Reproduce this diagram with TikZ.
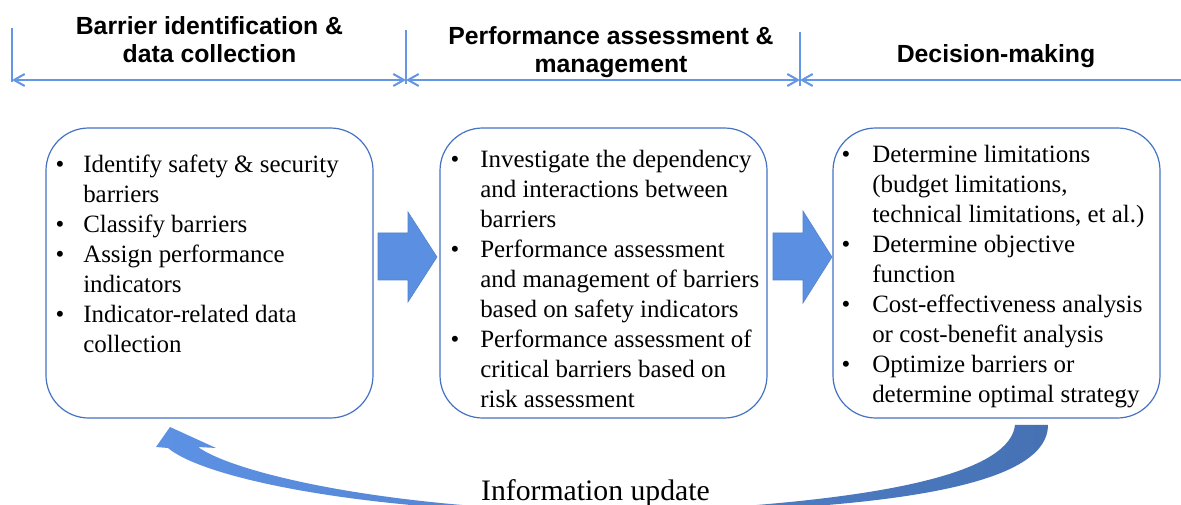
\documentclass[tikz,border=0pt]{standalone}
\usepackage{fontspec}
\setmainfont{Liberation Serif}
\newfontfamily\hdrfont{Liberation Sans}
\usetikzlibrary{arrows.meta}
\definecolor{hdrblue}{RGB}{99,150,229}
\definecolor{boxblue}{RGB}{68,114,196}
\definecolor{arrowblue}{RGB}{91,143,226}
\definecolor{curveL}{RGB}{93,145,228}
\definecolor{curveR}{RGB}{70,114,180}
\tikzset{
  hdrline/.style={draw=hdrblue, line width=1.5pt},
  hdrtip/.style={{Straight Barb[length=8pt,width=9pt]}-{Straight Barb[length=8pt,width=9pt]}},
  hdrtext/.style={font=\hdrfont\bfseries\fontsize{18.6}{21}\selectfont, anchor=base, inner sep=0pt},
  stagebox/.style={draw=boxblue, line width=0.9pt, rounded corners=32pt, minimum width=245.25pt, minimum height=217.5pt, inner sep=0pt},
  itemtext/.style={font=\fontsize{18.7}{22.4}\selectfont, anchor=base west, inner sep=0pt},
  bullet/.style={font=\fontsize{18.7}{22.4}\selectfont, anchor=base, inner sep=0pt},
  blockarrow/.style={fill=arrowblue, draw=arrowblue!90!black, line width=0.4pt},
  infotext/.style={font=\fontsize{22.3}{26}\selectfont, anchor=base, inner sep=0pt}
}
\begin{document}
\begin{tikzpicture}[x=0.75pt,y=-0.75pt]
\useasboundingbox (0,0) rectangle (1181,505);
\fill[white] (0,0) rectangle (1181,505);

% header dimension lines
\coordinate (v1t) at (12,28);  \coordinate (v1b) at (12,82);
\coordinate (v2t) at (406,30); \coordinate (v2b) at (406,84);
\coordinate (v3t) at (800,32); \coordinate (v3b) at (800,86);
\coordinate (h1) at (12,80); \coordinate (h2) at (406,80); \coordinate (h3) at (800,80); \coordinate (h4) at (1181,80);
\draw[hdrline] (v1t) -- (v1b);
\draw[hdrline] (v2t) -- (v2b);
\draw[hdrline] (v3t) -- (v3b);
\draw[hdrline, hdrtip] (h1) -- (h2);
\draw[hdrline, hdrtip] (h2) -- (h3);
\draw[hdrline, {Straight Barb[length=8pt,width=9pt]}-] (h3) -- (h4);

\node[hdrtext] (hA1) at (209.5,35) {Barrier identification \&};
\node[hdrtext] (hA2) at (209.5,63) {data collection};
\node[hdrtext] (hB1) at (611,45) {Performance assessment \&};
\node[hdrtext] (hB2) at (611,73) {management};
\node[hdrtext] (hC1) at (996,63) {Decision-making};

% boxes
\node[stagebox] (box1) at (209.5,273) {};
\node[stagebox] (box2) at (603.5,273) {};
\node[stagebox] (box3) at (996.5,273) {};

% box 1 text
\foreach \t [count=\i] in {{Identify safety \& security},{barriers},{Classify barriers},{Assign performance},{indicators},{Indicator-related data},{collection}}
  \node[itemtext] (ta\i) at (83,{173+(\i-1)*29.9}) {\t};
\foreach \i in {1,3,4,6}
  \node[bullet] (ba\i) at (60,{173+(\i-1)*29.9}) {•};

% box 2 text
\foreach \t [count=\i] in {{Investigate the dependency},{and interactions between},{barriers},{Performance assessment},{and management of barriers},{based on safety indicators},{Performance assessment of},{critical barriers based on},{risk assessment}}
  \node[itemtext] (tb\i) at (480,{168+(\i-1)*29.9}) {\t};
\foreach \i in {1,4,7}
  \node[bullet] (bb\i) at (455,{168+(\i-1)*29.9}) {•};

% box 3 text
\foreach \t [count=\i] in {{Determine limitations},{(budget limitations,},{technical limitations, et al.)},{Determine objective},{function},{Cost-effectiveness analysis},{or cost-benefit analysis},{Optimize barriers or},{determine optimal strategy}}
  \node[itemtext] (tc\i) at (872,{163+(\i-1)*29.9}) {\t};
\foreach \i in {1,4,6,8}
  \node[bullet] (bc\i) at (846,{163+(\i-1)*29.9}) {•};

% block arrows
\draw[blockarrow] (378,233) -- (408,233) -- (408,212) -- (437,257) -- (408,302) -- (408,280) -- (378,280) -- cycle;
\draw[blockarrow] (773,233) -- (803,233) -- (803,211) -- (832,257) -- (803,303) -- (803,280) -- (773,280) -- cycle;

% curved feedback arrow
\begin{scope}
\clip (0,0) rectangle (1181,505);
\shade[left color=curveL, right color=curveR]
 (1015,425) -- (1048,425)
 .. controls (1048,480) and (920,505) .. (700,512)
 -- (520,512)
 .. controls (330,505) and (200,475) .. (168,448)
 -- (156,447) -- (170,427) -- (216,448) -- (198,447)
 .. controls (230,470) and (350,500) .. (520,509)
 -- (700,509)
 .. controls (900,497) and (1010,470) .. (1015,425) -- cycle;
\node[infotext] (info) at (595.5,500) {Information update};
\end{scope}
\end{tikzpicture}
\end{document}
